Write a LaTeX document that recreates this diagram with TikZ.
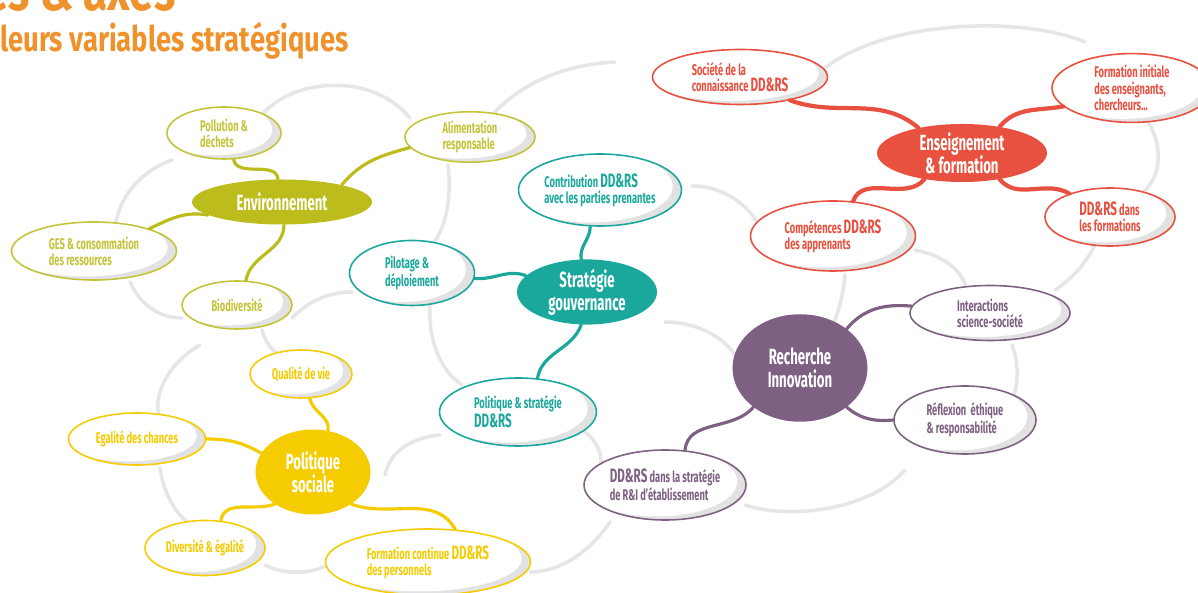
\documentclass[tikz,border=0pt]{standalone}
\usepackage{fontspec}
\newfontfamily\axisfont[FakeStretch=0.6]{Fira Sans}
\newfontfamily\titlefont[FakeStretch=0.78]{Fira Sans}
\usetikzlibrary{shapes.geometric,calc}

\definecolor{envcol}{HTML}{BCBC1C}
\definecolor{envline}{HTML}{C4C43A}
\definecolor{strcol}{HTML}{1AA89D}
\definecolor{enscol}{HTML}{E8503F}
\definecolor{reccol}{HTML}{7E6182}
\definecolor{soccol}{HTML}{F4CC00}
\definecolor{titlecol}{HTML}{F0922C}
\definecolor{cloudcol}{HTML}{E6E6E6}
\definecolor{shadecol}{HTML}{E2E2E2}

\newcommand\ddrs{{\fontsize{11}{10}\selectfont DD\&RS}}

\tikzset{
  hub/.style={ellipse, fill=#1, text=white, align=center, inner sep=0pt,
    font=\axisfont\bfseries\fontsize{12.5}{13}\selectfont},
  leaf/.style={ellipse, draw=#1, text=#1, fill=white, line width=0.9pt, inner sep=1pt,
    align=left, font=\axisfont\bfseries\fontsize{8.8}{9.2}\selectfont,
    path picture={
      \fill[shadecol] (path picture bounding box.south west) rectangle (path picture bounding box.north east);
      \fill[white] let \p1=(path picture bounding box.south west), \p2=(path picture bounding box.north east)
        in ($(\p1)!0.5!(\p2)+(-5pt,2pt)$) ellipse [x radius={0.5*\x2-0.5*\x1}, y radius={0.5*\y2-0.5*\y1}];
    }},
  link/.style={draw=#1, line width=1.8pt, line cap=round},
  cloud/.style={draw=cloudcol, line width=2pt, line cap=round},
}

\begin{document}
\begin{tikzpicture}[x=0.2mm,y=-0.2mm]
  \useasboundingbox (0,0) rectangle (1198,593);
  \clip (0,0) rectangle (1198,593);
  \fill[white] (0,0) rectangle (1198,593);

  % title
  \node[anchor=base west, inner sep=0pt, text=titlecol,
        font=\titlefont\bfseries\fontsize{32}{32}\selectfont] (title) at (-16,11) {es \& axes};
  \node[anchor=base west, inner sep=0pt, text=titlecol,
        font=\titlefont\bfseries\fontsize{20}{20}\selectfont] (subtitle) at (0,52) {leurs variables stratégiques};

  % grey clouds behind
  \draw[cloud] (118,262) .. controls (105,215) and (130,175) .. (172,160);
  \draw[cloud] (262,115) .. controls (290,80) and (370,70) .. (410,118);
  \draw[cloud] (492,115) .. controls (520,85) and (560,65) .. (615,62);
  \draw[cloud] (820,72) .. controls (880,20) and (1020,15) .. (1085,42);
  \draw[cloud] (1148,122) .. controls (1165,150) and (1160,180) .. (1140,195);
  \draw[cloud] (1095,245) .. controls (1085,265) and (1070,280) .. (1055,290);
  \draw[cloud] (915,250) .. controls (955,258) and (968,280) .. (968,300);
  \draw[cloud] (692,186) .. controls (720,185) and (750,205) .. (758,225);
  \draw[cloud] (665,322) .. controls (700,322) and (728,340) .. (738,360);
  \draw[cloud] (845,275) .. controls (843,300) and (835,325) .. (825,338);
  \draw[cloud] (1012,345) .. controls (1020,365) and (1018,390) .. (1010,405);
  \draw[cloud] (745,505) .. controls (790,520) and (870,510) .. (905,470);
  \draw[cloud] (292,318) .. controls (310,300) and (330,292) .. (352,292);
  \draw[cloud] (430,305) .. controls (428,340) and (440,370) .. (462,385);
  \draw[cloud] (448,165) .. controls (452,200) and (445,230) .. (432,245);
  \draw[cloud] (262,330) .. controls (266,345) and (274,352) .. (282,356);
  \draw[cloud] (200,345) .. controls (165,365) and (152,400) .. (160,418);
  \draw[cloud] (160,468) .. controls (165,500) and (180,520) .. (195,526);
  \draw[cloud] (265,565) .. controls (285,575) and (310,574) .. (325,566);
  \draw[cloud] (385,475) .. controls (390,452) and (410,438) .. (440,435);
  \draw[cloud] (582,430) .. controls (598,440) and (604,458) .. (600,470);
  \draw[cloud] (530,572) .. controls (565,572) and (595,545) .. (610,522);
  \draw[cloud] (130,282) .. controls (140,305) and (160,318) .. (182,318);

  % hubs
  \node[hub=envcol, minimum width=36mm, minimum height=9mm] (env) at (282,202) {Environnement};
  \node[hub=strcol, minimum width=28mm, minimum height=13mm] (str) at (587,292) {Stratégie\\gouvernance};
  \node[hub=enscol, minimum width=34mm, minimum height=11mm] (ens) at (962,153) {Enseignement\\\& formation};
  \node[hub=reccol, minimum width=27mm, minimum height=21.5mm] (rec) at (800,368) {Recherche\\Innovation};
  \node[hub=soccol, minimum width=23mm, minimum height=17mm] (soc) at (313,472) {Politique\\sociale};

  % leaves
  \node[leaf=envline, minimum width=22.8mm, minimum height=10.4mm] (pol) at (224,133) {Pollution \&\\déchets};
  \node[leaf=envline, minimum width=26mm, minimum height=10mm] (alim) at (470,137) {Alimentation\\responsable};
  \node[leaf=envline, minimum width=33mm, minimum height=11.6mm] (ges) at (94,251) {GES \& consommation\\des ressources};
  \node[leaf=envline, minimum width=22mm, minimum height=9.6mm] (bio) at (237,305) {Biodiversité};

  \node[leaf=strcol, minimum width=32.6mm, minimum height=14.4mm] (con) at (600,190) {Contribution \ddrs\\avec les parties prenantes};
  \node[leaf=strcol, minimum width=25mm, minimum height=13mm] (pil) at (412,273) {Pilotage \&\\déploiement};
  \node[leaf=strcol, minimum width=31.4mm, minimum height=13.6mm] (pst) at (518,412) {Politique \& stratégie\\\ddrs};

  \node[leaf=enscol, minimum width=35mm, minimum height=11mm] (sdc) at (740,77) {Société de la\\connaissance \ddrs};
  \node[leaf=enscol, minimum width=32mm, minimum height=13mm] (fin) at (1132,88) {Formation initiale\\des enseignants,\\chercheurs…};
  \node[leaf=enscol, minimum width=33mm, minimum height=14mm] (cmp) at (833,236) {Compétences \ddrs\\des apprenants};
  \node[leaf=enscol, minimum width=26mm, minimum height=11.6mm] (dds) at (1110,217) {\ddrs{} dans\\les formations};

  \node[leaf=reccol, minimum width=32mm, minimum height=11mm] (int) at (990,313) {Interactions\\science-société};
  \node[leaf=reccol, minimum width=28.4mm, minimum height=13.6mm] (ref) at (965,420) {Réflexion~ éthique\\\& responsabilité};
  \node[leaf=reccol, minimum width=32.4mm, minimum height=14mm] (rdi) at (665,485) {\ddrs{} dans la stratégie\\de R\&I d’établissement};

  \node[leaf=soccol, minimum width=20.4mm, minimum height=9.6mm] (qua) at (301,374) {Qualité de vie};
  \node[leaf=soccol, minimum width=27.4mm, minimum height=10.4mm] (ega) at (137,439) {Egalité des chances};
  \node[leaf=soccol, minimum width=24mm, minimum height=11mm] (div) at (205,548) {Diversité \& égalité};
  \node[leaf=soccol, minimum width=41mm, minimum height=13.2mm] (fco) at (428,562) {Formation continue \ddrs\\des personnels};

  % links
  \draw[link=envcol] (env.100) to[out=95,in=-80] (pol.-70);
  \draw[link=envcol] (env.16) to[out=50,in=195] (alim.190);
  \draw[link=envcol] (env.190) to[out=170,in=25] (ges.22);
  \draw[link=envcol] (env.-85) to[out=-90,in=80] (bio.70);

  \draw[link=strcol] (str.100) to[out=100,in=-90] (con.-105);
  \draw[link=strcol] (str.165) to[out=160,in=-5] (pil.-5);
  \draw[link=strcol] (str.-100) to[out=-110,in=80] (pst.60);

  \draw[link=enscol, line width=2.4pt] (ens.150) to[out=140,in=-20] (sdc.-25);
  \draw[link=enscol, line width=2.4pt] (ens.35) to[out=50,in=190] (fin.195);
  \draw[link=enscol, line width=2.4pt] (ens.-145) to[out=-130,in=70] (cmp.60);
  \draw[link=enscol, line width=2.4pt] (ens.-35) to[out=-50,in=150] (dds.150);

  \draw[link=reccol] (rec.40) to[out=50,in=175] (int.175);
  \draw[link=reccol] (rec.-40) to[out=-40,in=185] (ref.180);
  \draw[link=reccol] (rec.-140) to[out=-130,in=85] (rdi.60);

  \draw[link=soccol] (soc.70) to[out=80,in=-80] (qua.-70);
  \draw[link=soccol] (soc.160) to[out=150,in=0] (ega.0);
  \draw[link=soccol] (soc.-140) to[out=-160,in=80] (div.60);
  \draw[link=soccol] (soc.-40) to[out=-20,in=120] (fco.50);
\end{tikzpicture}
\end{document}
